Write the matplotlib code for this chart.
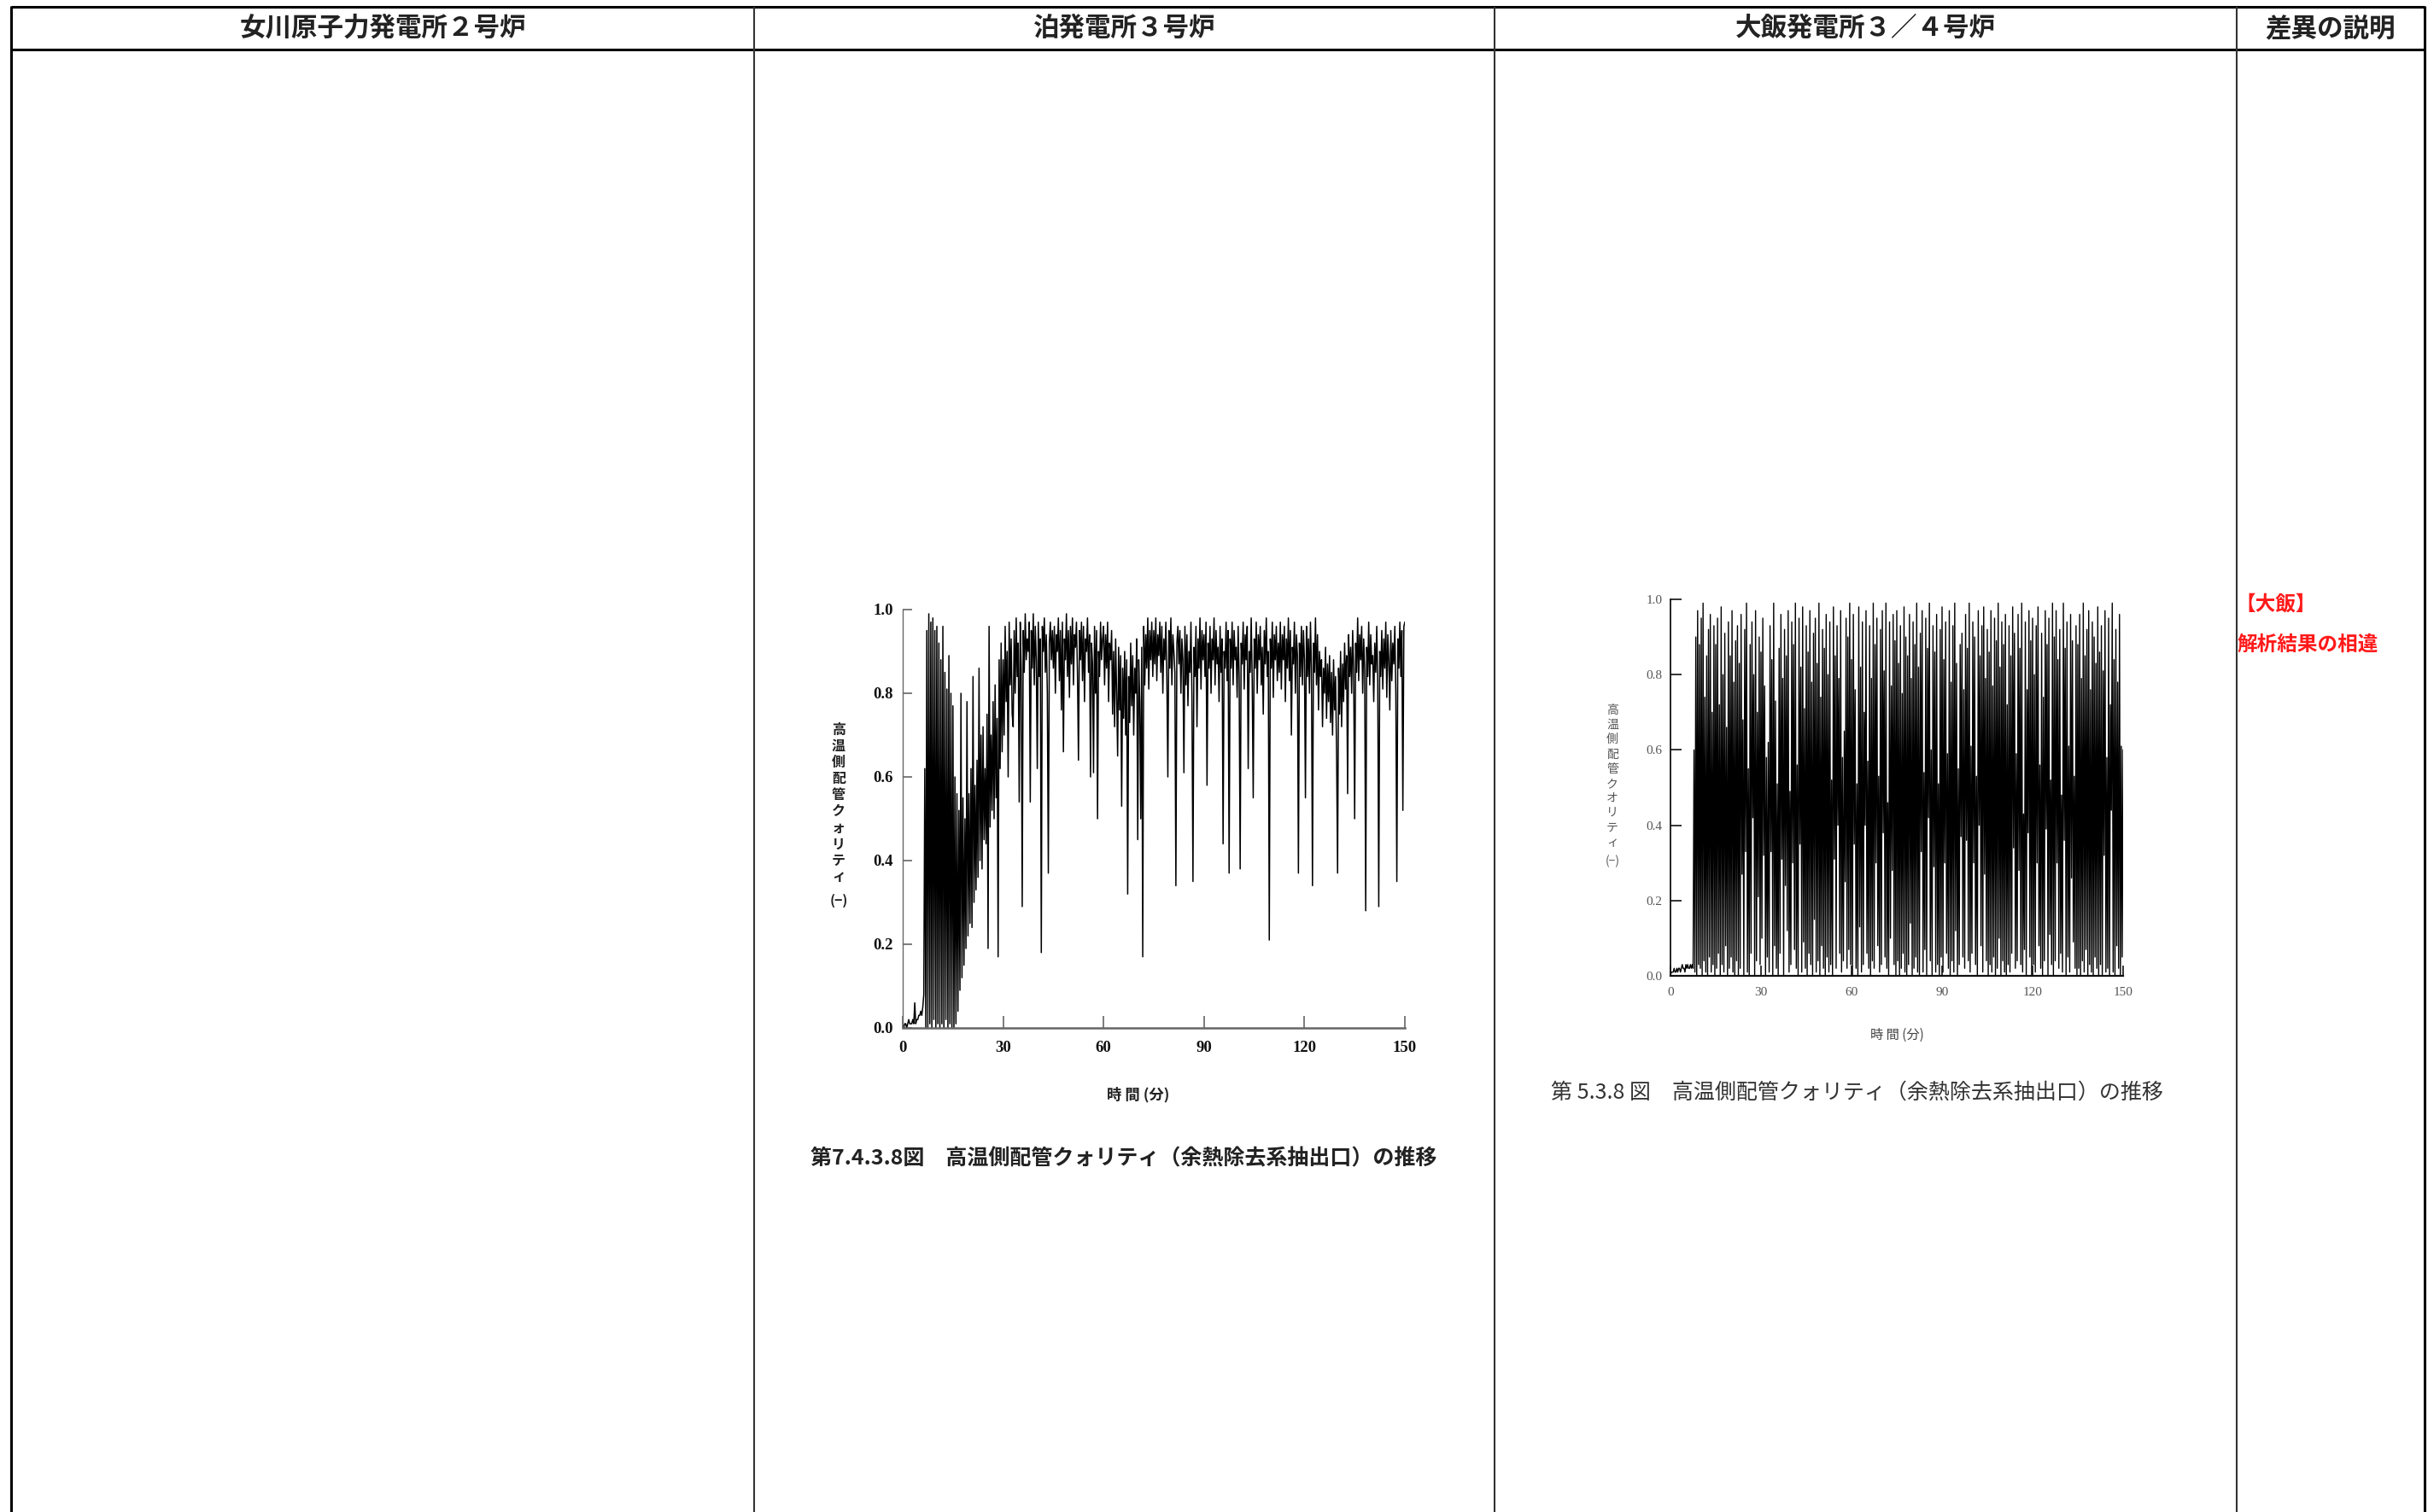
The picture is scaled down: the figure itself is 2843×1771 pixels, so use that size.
import matplotlib
matplotlib.use("Agg")
import matplotlib.pyplot as plt
from matplotlib.lines import Line2D
import numpy as np

W, H = 2843, 1771
JP = ["Noto Sans CJK JP", "DejaVu Sans"]
SERIF = ["Liberation Serif", "DejaVu Serif"]

# 表の見出し
HEADERS = ["女川原子力発電所２号炉", "泊発電所３号炉", "大飯発電所３／４号炉", "差異の説明"]
NOTE_TITLE = "【大飯】"
NOTE_TEXT = "解析結果の相違"

X_TICKS = [0, 30, 60, 90, 120, 150]
Y_TICKS = [0.0, 0.2, 0.4, 0.6, 0.8, 1.0]
T_END = 150  # 分

# 泊3号炉 高温側配管クォリティ (x100)、0.3分刻み
Q_TOMARI = [
    1, 0, 1, 1, 0, 1, 2, 1, 1, 1, 2, 1, 6, 1, 2, 2, 3, 3, 4, 3, 5, 8, 62, 0, 95,
    0, 99, 1, 97, 0, 98, 2, 95, 0, 96, 1, 92, 0, 88, 1, 96, 0, 85, 2, 81, 0, 89, 1, 80, 0,
    77, 0, 60, 1, 56, 4, 52, 9, 80, 12, 55, 15, 50, 19, 78, 22, 56, 25, 62, 24, 84, 30, 58, 33, 64,
    36, 86, 40, 70, 38, 72, 45, 62, 44, 75, 19, 96, 48, 70, 52, 78, 50, 82, 55, 74, 17, 88, 62, 92, 66,
    88, 70, 96, 78, 90, 60, 97, 82, 93, 75, 72, 95, 80, 98, 84, 92, 54, 97, 86, 29, 95, 85, 99, 88, 93,
    90, 97, 54, 95, 86, 99, 82, 96, 88, 62, 97, 84, 93, 18, 96, 90, 98, 85, 94, 80, 37, 92, 97, 88, 95,
    86, 96, 80, 94, 90, 98, 83, 95, 76, 97, 66, 93, 88, 99, 84, 95, 79, 96, 87, 98, 82, 94, 91, 97, 85,
    64, 95, 88, 97, 83, 96, 78, 93, 90, 98, 85, 94, 60, 92, 87, 61, 96, 80, 95, 50, 90, 84, 97, 88, 93,
    96, 82, 94, 86, 97, 78, 92, 88, 95, 75, 90, 72, 93, 80, 65, 91, 76, 89, 53, 86, 74, 90, 70, 88, 32,
    84, 73, 92, 77, 89, 70, 86, 80, 93, 45, 88, 78, 50, 91, 17, 96, 82, 94, 86, 98, 81, 95, 88, 97, 84,
    95, 87, 98, 83, 94, 89, 97, 85, 96, 80, 93, 88, 97, 84, 60, 95, 86, 98, 82, 94, 90, 85, 34, 92, 96,
    87, 95, 80, 93, 88, 61, 96, 82, 94, 77, 90, 85, 97, 79, 35, 91, 84, 96, 72, 93, 86, 98, 81, 95, 88,
    94, 84, 97, 58, 92, 86, 96, 80, 93, 88, 98, 82, 95, 87, 91, 78, 96, 85, 93, 44, 90, 86, 97, 83, 95,
    37, 93, 86, 97, 82, 95, 88, 91, 79, 96, 84, 38, 92, 87, 97, 81, 94, 88, 96, 62, 90, 85, 98, 83, 55,
    93, 86, 97, 80, 94, 88, 96, 82, 91, 75, 95, 87, 98, 84, 90, 21, 93, 86, 97, 79, 94, 88, 96, 83, 92,
    85, 97, 81, 94, 88, 96, 78, 93, 86, 98, 83, 95, 70, 91, 87, 97, 80, 94, 89, 37, 92, 84, 96, 82, 95,
    88, 55, 96, 84, 93, 80, 97, 86, 34, 92, 85, 98, 82, 94, 76, 90, 84, 88, 72, 86, 80, 91, 74, 87, 78,
    89, 73, 85, 70, 88, 76, 84, 66, 37, 86, 75, 90, 72, 87, 78, 92, 81, 89, 56, 94, 84, 91, 80, 95, 86,
    50, 92, 85, 98, 83, 94, 88, 96, 80, 93, 86, 28, 91, 84, 97, 82, 94, 87, 89, 78, 92, 85, 96, 83, 29,
    90, 84, 95, 81, 93, 86, 97, 79, 94, 88, 76, 95, 83, 92, 87, 96, 80, 35, 93, 86, 97, 84, 95, 52, 96,
    97,
]

# 大飯3/4号炉 高温側配管クオリティ (x100)、0.3分刻み
Q_OHI = [
    0, 1, 1, 1, 2, 1, 1, 2, 1, 2, 2, 1, 2, 3, 2, 2, 1, 3, 2, 3, 2, 2, 3, 2, 3,
    2, 60, 1, 90, 0, 97, 3, 88, 2, 95, 0, 99, 4, 74, 1, 85, 0, 92, 5, 96, 1, 70, 3, 93, 0,
    88, 2, 95, 6, 72, 0, 98, 3, 80, 1, 91, 8, 66, 0, 94, 2, 85, 5, 97, 1, 78, 0, 89, 4, 93,
    0, 83, 2, 96, 27, 68, 0, 92, 33, 99, 1, 55, 0, 88, 6, 94, 42, 80, 0, 97, 4, 70, 21, 90, 3,
    86, 10, 95, 32, 77, 0, 58, 5, 62, 1, 93, 33, 84, 0, 99, 8, 73, 2, 51, 0, 87, 6, 96, 31, 79,
    0, 92, 24, 85, 12, 97, 1, 49, 3, 94, 30, 88, 7, 99, 2, 56, 0, 95, 35, 82, 1, 98, 9, 71, 2,
    93, 0, 86, 6, 97, 3, 78, 0, 91, 15, 95, 1, 83, 4, 99, 0, 74, 8, 92, 2, 87, 0, 96, 5, 80,
    1, 94, 3, 52, 0, 98, 31, 85, 2, 93, 40, 79, 6, 97, 1, 58, 4, 65, 25, 95, 2, 90, 7, 99, 3,
    84, 0, 96, 35, 76, 2, 51, 0, 98, 13, 82, 1, 94, 3, 70, 40, 97, 6, 57, 2, 93, 0, 79, 4, 99,
    2, 88, 30, 95, 8, 53, 1, 92, 3, 97, 38, 81, 5, 99, 2, 46, 0, 94, 10, 77, 28, 96, 3, 89, 0,
    97, 4, 83, 0, 93, 2, 75, 6, 98, 1, 90, 0, 85, 3, 96, 14, 79, 0, 94, 2, 88, 5, 99, 1, 82,
    0, 91, 33, 97, 1, 54, 7, 95, 0, 87, 42, 99, 4, 60, 0, 93, 29, 86, 1, 96, 3, 51, 0, 92, 5,
    98, 1, 84, 30, 94, 6, 59, 2, 97, 0, 78, 4, 93, 1, 99, 12, 83, 0, 55, 3, 88, 37, 91, 5, 76,
    2, 96, 36, 87, 4, 99, 1, 61, 6, 94, 30, 90, 3, 53, 0, 97, 40, 85, 8, 93, 1, 98, 27, 79, 4,
    92, 0, 86, 3, 97, 1, 77, 5, 95, 0, 89, 2, 99, 10, 82, 0, 94, 4, 88, 1, 96, 0, 72, 3, 93,
    1, 85, 6, 98, 34, 91, 2, 59, 4, 96, 28, 87, 3, 99, 1, 43, 7, 94, 0, 76, 38, 97, 5, 89, 0,
    95, 3, 80, 1, 93, 30, 98, 8, 56, 2, 91, 0, 74, 4, 97, 39, 88, 0, 95, 11, 52, 3, 99, 0, 90,
    4, 97, 30, 84, 2, 92, 6, 48, 1, 99, 36, 87, 0, 94, 5, 61, 1, 96, 26, 89, 9, 53, 2, 93, 0,
    88, 2, 96, 0, 79, 4, 99, 1, 85, 7, 92, 0, 97, 3, 76, 1, 94, 0, 90, 5, 83, 2, 98, 0, 86,
    3, 93, 0, 81, 32, 97, 1, 58, 2, 95, 0, 72, 44, 99, 1, 84, 0, 92, 8, 78, 2, 96, 0, 61, 5,
    60,
]

YLABEL_1 = ["高", "温", "側", "配", "管", "ク", "ォ", "リ", "テ", "ィ", "(−)"]
YLABEL_2 = ["高", "温", "側", "配", "管", "ク", "オ", "リ", "テ", "ィ", "(−)"]
XLABEL = "時 間 (分)"
CAPTION_1 = "第7.4.3.8図　高温側配管クォリティ（余熱除去系抽出口）の推移"
CAPTION_2 = "第 5.3.8 図　高温側配管クォリティ（余熱除去系抽出口）の推移"


def fx(x):
    return x / W


def fy(y):
    return 1 - y / H


def hline(fig, y, x0, x1, lw, color="black"):
    fig.add_artist(Line2D([fx(x0), fx(x1)], [fy(y), fy(y)], transform=fig.transFigure,
                          color=color, lw=lw, solid_capstyle="butt"))


def vline(fig, x, y0, y1, lw, color="black"):
    fig.add_artist(Line2D([fx(x), fx(x)], [fy(y0), fy(y1)], transform=fig.transFigure,
                          color=color, lw=lw, solid_capstyle="butt"))


fig = plt.figure(figsize=(W / 100, H / 100), dpi=100)
fig.patch.set_facecolor("white")

# 表の枠
COLS = [13, 883, 1750, 2619, 2839]
hline(fig, 8, COLS[0], COLS[-1], 2.2)
hline(fig, 58, COLS[0], COLS[-1], 2.2)
vline(fig, COLS[0], 7, H, 2.2)
vline(fig, COLS[-1], 7, H, 2.2)
for x in COLS[1:-1]:
    vline(fig, x, 8, H, 1.5, "#333333")

for i, head in enumerate(HEADERS):
    fig.text(fx((COLS[i] + COLS[i + 1]) / 2), fy(33), head, family=JP, fontsize=22,
             fontweight="bold", ha="center", va="center", color="#222222")

fig.text(fx(2617), fy(707), NOTE_TITLE, family=JP, fontsize=17, fontweight="bold",
         color="#ff1a1a", ha="left", va="center")
fig.text(fx(2620), fy(755), NOTE_TEXT, family=JP, fontsize=17, fontweight="bold",
         color="#ff1a1a", ha="left", va="center")


def draw_chart(rect, q, lw, spine_color, tick_style, label_color):
    ax = fig.add_axes(rect)
    t = np.linspace(0, T_END, len(q))
    ax.plot(t, np.array(q) / 100, color="black", lw=lw)
    ax.set_xlim(0, T_END)
    ax.set_ylim(0, 1)
    for s in ["top", "right"]:
        ax.spines[s].set_visible(False)
    for s in ["left", "bottom"]:
        ax.spines[s].set_color(spine_color)
    ax.set_xticks(X_TICKS)
    ax.set_yticks(Y_TICKS)
    ax.set_xticklabels([str(v) for v in X_TICKS], **tick_style)
    ax.set_yticklabels([f"{v:.1f}" for v in Y_TICKS], **tick_style)
    ax.tick_params(direction="in", color=spine_color, labelcolor=label_color)
    ax.set_facecolor("none")
    return ax


# 泊発電所3号炉
ax1 = draw_chart([fx(1057), fy(1204), (1645 - 1057) / W, (1204 - 714) / H], Q_TOMARI, 1.1,
                 "#666666", dict(family=SERIF, fontsize=13.5, fontweight="bold"), "#111111")
ax1.spines["left"].set_linewidth(1.0)
ax1.spines["bottom"].set_linewidth(1.8)
ax1.tick_params(axis="x", length=10, width=1.2, pad=11)
ax1.tick_params(axis="y", length=8, width=1.2, pad=8)
for k, ch in enumerate(YLABEL_1):
    fig.text(fx(982), fy(855 + 19.1 * k + (9 if k == 10 else 0)), ch, family=JP, fontsize=11.5,
             fontweight="bold", ha="center", va="center", color="#222222")
fig.text(fx(1333), fy(1282), XLABEL, family=JP, fontsize=12.5, fontweight="bold",
         ha="center", va="center", color="#222222")
fig.text(fx(1316), fy(1357), CAPTION_1, family=JP, fontsize=18, fontweight="bold",
         ha="center", va="center", color="#222222")

# 大飯発電所3/4号炉
ax2 = draw_chart([fx(1956), fy(1143), (2486 - 1956) / W, (1143 - 702) / H], Q_OHI, 1.0,
                 "#111111", dict(family=SERIF, fontsize=11), "#555555")
ax2.spines["left"].set_linewidth(1.3)
ax2.spines["bottom"].set_linewidth(1.6)
ax2.tick_params(axis="x", length=9, width=1.2, pad=9)
ax2.tick_params(axis="y", length=9, width=1.2, pad=7)
for k, ch in enumerate(YLABEL_2):
    fig.text(fx(1888), fy(832 + 17.2 * k + (5 if k == 10 else 0)), ch, family=JP, fontsize=10,
             ha="center", va="center", color="#555555")
fig.text(fx(2221), fy(1212), XLABEL, family=JP, fontsize=11,
         ha="center", va="center", color="#444444")
fig.text(fx(2174), fy(1280), CAPTION_2, family=JP, fontsize=18,
         ha="center", va="center", color="#333333")

fig.savefig("out.png", dpi=100, facecolor="white")
